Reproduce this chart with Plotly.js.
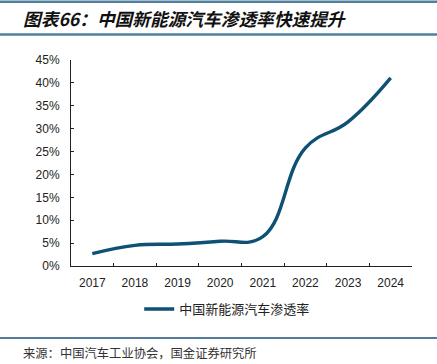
<!DOCTYPE html>
<html>
<head>
<meta charset="utf-8">
<script src="https://cdn.plot.ly/plotly-3.0.1.min.js"></script>
<style>
html,body{margin:0;padding:0;background:#fff;}
#chart{width:437px;height:364px;}
</style>
</head>
<body>
<div id="chart"></div>
<script>
const years = ['2017','2018','2019','2020','2021','2022','2023','2024'];
const penetration = [2.7, 4.5, 4.8, 5.4, 6.4, 25.8, 31.5, 41.1];
const yTicks = [0,5,10,15,20,25,30,35,40,45];
const yTickText = yTicks.map(v => v + '%');
const seriesName = '中国新能源汽车渗透率';
const titleText = '图表66：中国新能源汽车渗透率快速提升';
const sourceText = '来源：中国汽车工业协会，国金证券研究所';

const cjk = '"Noto Sans CJK SC", "Noto Sans", sans-serif';
const latin = '"Liberation Sans", Arial, sans-serif';

const trace = {
  x: years,
  y: penetration,
  type: 'scatter',
  mode: 'lines',
  name: seriesName,
  line: {color: '#0e5174', width: 3.4, shape: 'spline', smoothing: 1.2},
  hoverinfo: 'skip'
};

const layout = {
  width: 437, height: 364,
  margin: {l: 71, r: 25, t: 60, b: 98},
  paper_bgcolor: '#fff', plot_bgcolor: '#fff',
  showlegend: true,
  legend: {
    orientation: 'h', x: 0.2, xanchor: 'left', y: -0.209, yanchor: 'middle',
    font: {family: cjk, size: 13, color: '#222'},
    itemwidth: 30
  },
  xaxis: {
    type: 'category',
    tickvals: years, ticktext: years,
    showline: true, linecolor: '#222', linewidth: 1,
    ticks: 'inside', ticklen: 3, tickcolor: '#222',
    tickson: 'boundaries',
    ticklabelstandoff: 6,
    showgrid: false, zeroline: false,
    tickfont: {family: latin, size: 12, color: '#222'},
    range: [-0.5, 7.5], fixedrange: true
  },
  yaxis: {
    range: [0, 45],
    tickvals: yTicks, ticktext: yTickText,
    showline: true, linecolor: '#222', linewidth: 1,
    ticks: 'inside', ticklen: 3, tickcolor: '#222',
    ticklabelstandoff: 8,
    showgrid: false, zeroline: false,
    tickfont: {family: latin, size: 12, color: '#222'},
    fixedrange: true
  },
  shapes: [
    {type: 'line', xref: 'paper', yref: 'paper', x0: -0.21, x1: 1.08, y0: 1.283, y1: 1.283,
     line: {color: '#4f7f9b', width: 2.5}},
    {type: 'line', xref: 'paper', yref: 'paper', x0: -0.21, x1: 1.08, y0: 1.124, y1: 1.124,
     line: {color: '#4f7f9b', width: 2.5}},
    {type: 'line', xref: 'paper', yref: 'paper', x0: -0.21, x1: 1.08, y0: -0.35, y1: -0.35,
     line: {color: '#1d4f78', width: 1.5}}
  ],
  annotations: [
    {xref: 'paper', yref: 'paper', x: (21 - 71) / 341, y: (266 - 18) / 206, xanchor: 'left', yanchor: 'middle',
     text: '<b><i>' + titleText + '</i></b>', showarrow: false,
     font: {family: cjk, size: 17.7, color: '#111'}},
    {xref: 'paper', yref: 'paper', x: (21 - 71) / 341, y: (266 - 353) / 206, xanchor: 'left', yanchor: 'middle',
     text: sourceText, showarrow: false,
     font: {family: cjk, size: 12.3, color: '#333'}}
  ]
};

Plotly.newPlot('chart', [trace], layout, {staticPlot: true, displayModeBar: false});
</script>
</body>
</html>
